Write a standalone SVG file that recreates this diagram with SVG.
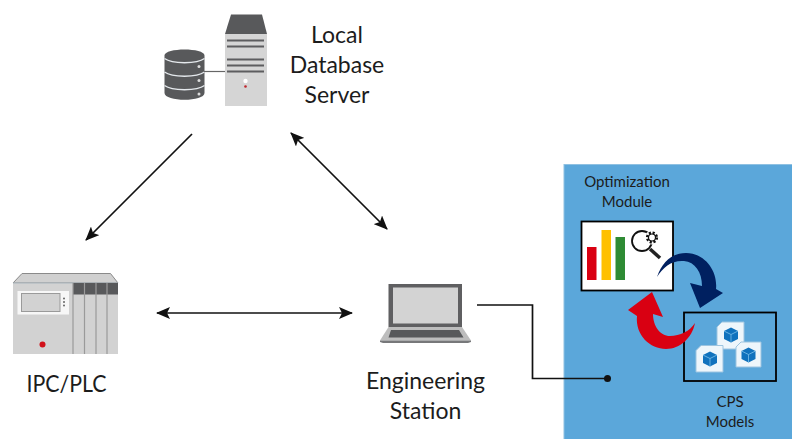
<svg xmlns="http://www.w3.org/2000/svg" width="792" height="439" viewBox="0 0 792 439">
<style>
text{font-family:Lato,"Open Sans","Liberation Sans",sans-serif;fill:#1c1c1c;text-anchor:middle}
.big{font-size:23px}
.small{font-size:15px}
.conn{fill:none;stroke:#111;stroke-width:1.700}
.dk{fill:#58595b}
.doc{fill:#eef6fb;stroke:#9cc4e0;stroke-width:1}
.cube{fill:#1072bd}
</style>
<defs>
<marker id="ah" viewBox="0 0 14 12" refX="13" refY="6" markerWidth="14" markerHeight="12" markerUnits="userSpaceOnUse" orient="auto-start-reverse"><path d="M0 0L14 6L0 12L3 6Z" fill="#111"/></marker>
<g id="cubeicon"><path class="cube" d="M0-7.500L7-4V4L0 7.500L-7 4V-4Z"/><path d="M-7-4L0-.5L7-4M0-.5V7.500" fill="none" stroke="#7cc0ea" stroke-width=".8"/></g>
</defs>
<rect width="792" height="439" fill="#fff"/>

<g id="panel"><rect x="564" y="164.500" width="240" height="290" fill="#5ba7da" stroke="#8fc1e2" stroke-width="1"/></g>

<g id="connectors">
<line class="conn" x1="192" y1="134" x2="86" y2="240" marker-end="url(#ah)"/>
<line class="conn" x1="291" y1="133" x2="387" y2="229" marker-start="url(#ah)" marker-end="url(#ah)"/>
<line class="conn" x1="157" y1="313" x2="352" y2="313" marker-start="url(#ah)" marker-end="url(#ah)"/>
<path class="conn" d="M477 305H532.500V378.500H607"/>
<circle cx="607.500" cy="378.500" r="3.500" fill="#111"/>
</g>

<g id="local-database-server">
<path class="dk" d="M164.500 55.500C164.500 47.500 204.500 47.500 204.500 55.500V93C204.500 102 164.500 102 164.500 93Z"/>
<path d="M164.500 58.500C172 64 197 64 204.500 58.500M164.500 72C172 77.500 197 77.500 204.500 72M164.500 85.500C172 91 197 91 204.500 85.500" fill="none" stroke="#e4e8ec" stroke-width="1.500"/>
<circle cx="199" cy="66.500" r="1.500" fill="#ddd"/><circle cx="199" cy="80.500" r="1.500" fill="#ddd"/><circle cx="199" cy="94" r="1.500" fill="#ddd"/>
<line x1="204" y1="71.500" x2="225" y2="71.500" stroke="#666" stroke-width="1.200"/>
<path class="dk" d="M231 14.500H262L267 34H225Z"/>
<rect x="225" y="34" width="42" height="72" fill="#d5d5d5"/>
<path d="M227 40.500H264M227 46.500H264M227 59.500H264M227 65.500H264M227 71.500H264" stroke="#5d5d5f" stroke-width="2.200"/>
<circle cx="245.500" cy="81" r="2.200" fill="#fff"/><circle cx="245.500" cy="86.500" r="1.300" fill="#c0272d"/>
<text class="big" x="337" y="43">Local</text>
<text class="big" x="337" y="73">Database</text>
<text class="big" x="337" y="103">Server</text>
</g>

<g id="ipc-plc">
<path d="M22 273.500H110.500L118 283H13Z" fill="#d0d0d0" stroke="#8a8a8a" stroke-width="1"/>
<rect x="13" y="283" width="105" height="71" fill="#d2d2d2"/>
<path d="M13 283H118" stroke="#a9b5bd" stroke-width="1"/>
<rect x="73" y="283" width="45" height="11.500" fill="#58595b"/>
<path d="M73 283V354M84.500 283V354M96 283V354M107 283V354" stroke="#9a9a9a" stroke-width="1.200"/>
<rect x="17.500" y="291" width="51.500" height="23.500" fill="#f7f7f7"/>
<rect x="21.500" y="293.500" width="38.500" height="18" fill="#d2d2d2" stroke="#9a9a9a" stroke-width="1"/>
<circle cx="64" cy="298.500" r="1" fill="#666"/><circle cx="64" cy="302" r="1" fill="#666"/><circle cx="64" cy="305.500" r="1" fill="#666"/>
<circle cx="42.500" cy="344.500" r="3" fill="#d1111a"/>
<text class="big" x="66.500" y="392" textLength="80" lengthAdjust="spacingAndGlyphs">IPC/PLC</text>
</g>

<g id="engineering-station">
<rect x="388.500" y="284" width="73.500" height="43" fill="#5f5f61"/>
<rect x="393" y="287.500" width="65" height="36" fill="#d3d3d3"/>
<path d="M388.500 327H462L471 340.500H380Z" fill="#bdbdbd"/>
<path d="M391 330H459L463.500 337.500H388.500Z" fill="#58595b"/>
<path d="M380 340.500H471V342L468 343H383L380 342Z" fill="#77787a"/>
<text class="big" x="425.500" y="389">Engineering</text>
<text class="big" x="425.500" y="419">Station</text>
</g>

<g id="optimization-module">
<text class="small" x="627" y="187">Optimization</text>
<text class="small" x="627" y="207">Module</text>
<rect x="581.500" y="221.500" width="91.500" height="69" fill="#fff" stroke="#000" stroke-width="1.800"/>
<rect x="587" y="247" width="9.500" height="33" fill="#d90012"/>
<rect x="601.500" y="230" width="9.500" height="50" fill="#ffc000"/>
<rect x="615.500" y="237" width="9.500" height="43" fill="#2e8b34"/>
<circle cx="642" cy="241" r="10" fill="none" stroke="#111" stroke-width="1.800"/>
<line x1="650" y1="249" x2="660" y2="258" stroke="#222" stroke-width="3.500"/>
<circle cx="652" cy="237.500" r="7" fill="#fff"/>
<circle cx="652" cy="237.500" r="4.800" fill="none" stroke="#111" stroke-width="2.600" stroke-dasharray="2.100 1.670"/>
<circle cx="652" cy="237.500" r="3.500" fill="none" stroke="#111" stroke-width="1.200"/>
</g>

<g id="cps-models">
<rect x="684" y="312.500" width="92" height="68.500" fill="none" stroke="#000" stroke-width="1.800"/>
<path class="doc" d="M722 322H744V349H717V327Z"/>
<use href="#cubeicon" x="731" y="335"/>
<path class="doc" d="M741 342H761V367H736V347Z"/>
<use href="#cubeicon" x="748.500" y="355"/>
<path class="doc" d="M701 345.500H723V372H696V350.500Z"/>
<use href="#cubeicon" x="710" y="359"/>
<text class="small" x="730" y="407">CPS</text>
<text class="small" x="730" y="427">Models</text>
</g>

<g id="cycle-arrows">
<path d="M657 277C662 262 672 253 686 253C704 253 718 270 716 289L723 293L700 308L690 283L702 286C702 272 695 262 684 261C672 260 663 267 657 277Z" fill="#002060"/>
<path d="M695 323C692 338 680 349 666 349C650 349 635 335 637 316L628 310L652 292L663 317L653 314C653 326 660 336 670 336C680 336 690 331 695 323Z" fill="#d90012"/>
</g>
</svg>
